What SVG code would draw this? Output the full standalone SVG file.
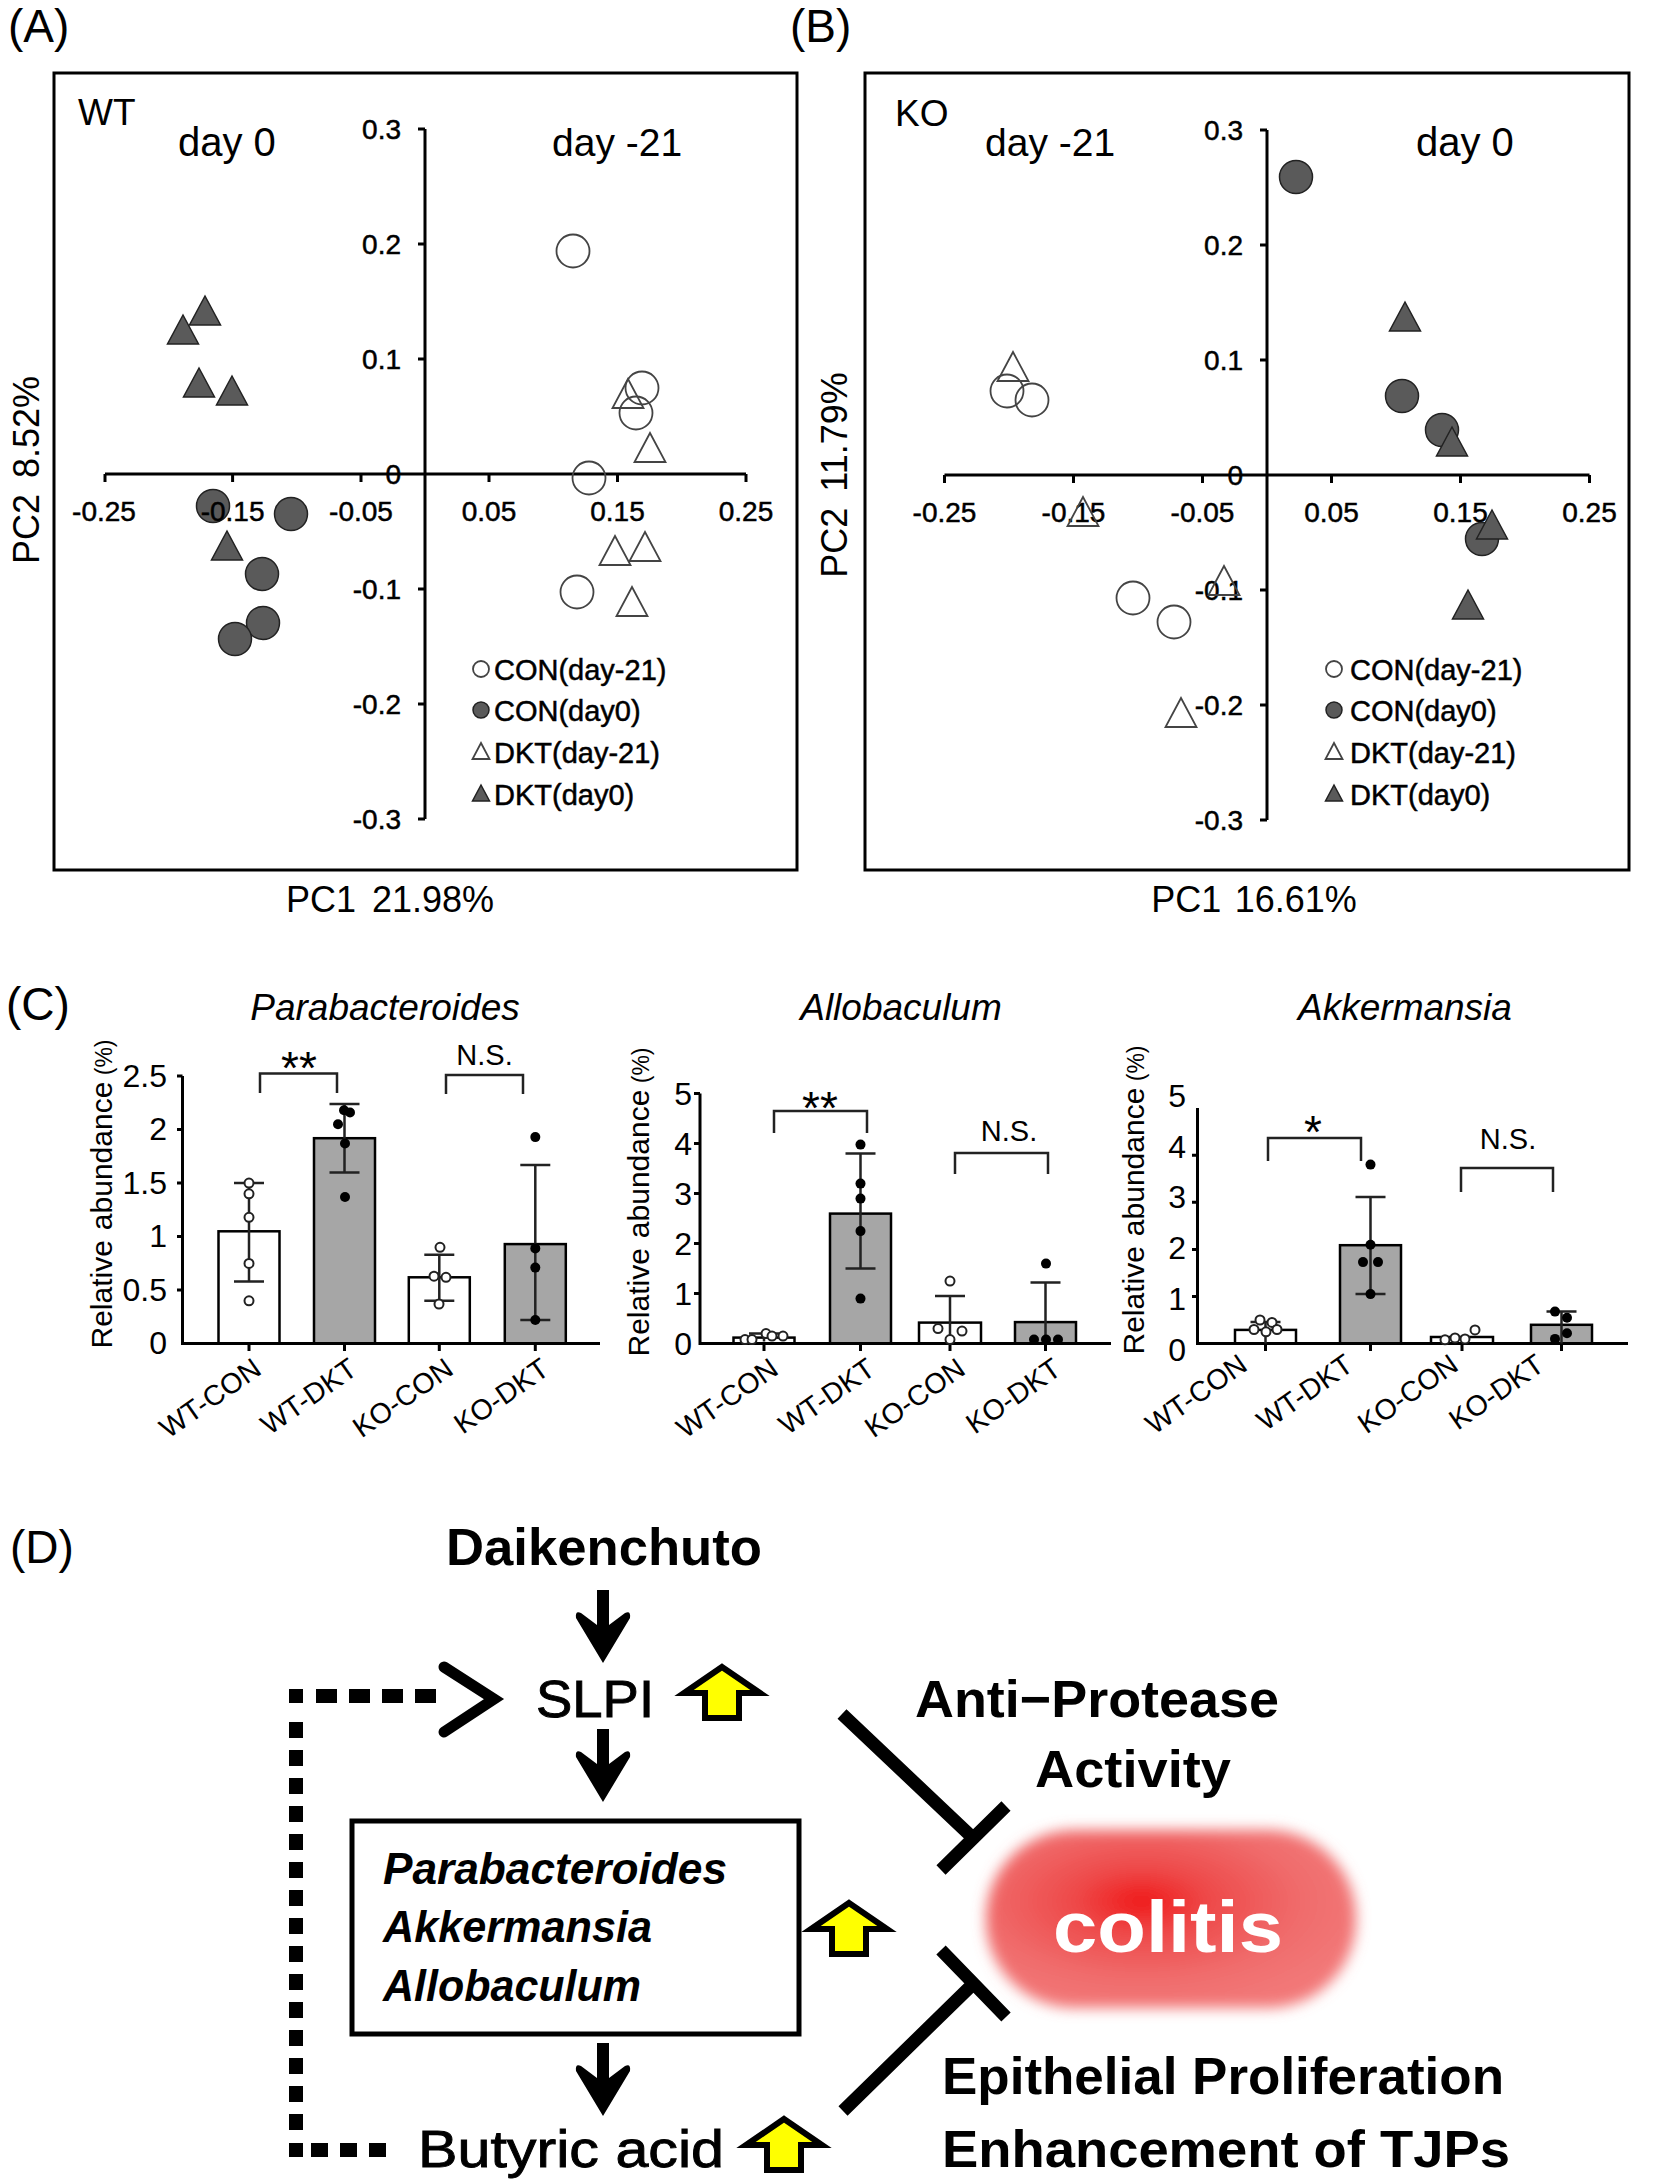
<svg xmlns="http://www.w3.org/2000/svg" xmlns:xlink="http://www.w3.org/1999/xlink" width="1654" height="2183" viewBox="0 0 1654 2183">
<style>
text{font-family:"Liberation Sans",Arial,sans-serif;fill:#000}
.pl{font-size:46px}
.ax{stroke:#000;stroke-width:3;fill:none}
.tk{font-size:28px;stroke:#000;stroke-width:0.5}
.big{font-size:40px}
.lg{font-size:29px;stroke:#000;stroke-width:0.5}
.fm{fill:#5a5a5a;stroke:#222;stroke-width:1.5}
.om{fill:none;stroke:#444;stroke-width:1.8}
.bw{fill:#fff;stroke:#000;stroke-width:2.5}
.bg{fill:#a6a6a6;stroke:#000;stroke-width:2.5}
.eb{stroke:#222;stroke-width:2.5;fill:none}
.pf{fill:#000}
.po{fill:#fff;stroke:#222;stroke-width:2}
.ct{font-size:32px}
.xl{font-size:28.5px}
.ti{font-size:37px;font-style:italic}
.ns{font-size:29px}
.st{font-size:46px}
.dt{font-size:52px}
.md{stroke:#000;stroke-width:0.9}
.bx{font-size:44px;font-weight:bold;font-style:italic}
.dash{stroke:#000;stroke-width:14;fill:none}
.inh{stroke:#000;stroke-width:13;fill:none}
.ya{fill:#ffff00;stroke:#000;stroke-width:6;stroke-linejoin:miter}
</style>
<defs>
<path id="tri" d="M0,-16 L15.5,13 L-15.5,13 Z"/>
<path id="ltri" d="M0,-9 L8.5,7 L-8.5,7 Z"/>
<path id="darr" d="M-6,-73 H6 V-38 L22,-50 Q28,-53 27,-45 L0,0 L-27,-45 Q-28,-53 -22,-50 L-6,-38 Z"/>
<path id="yarr" d="M0,3 L38,29 L17,29 L17,54 L-17,54 L-17,29 L-38,29 Z"/>
<radialGradient id="red" cx="0.42" cy="0.4" r="0.62">
<stop offset="0" stop-color="#f01818"/>
<stop offset="0.3" stop-color="#ee4a4a"/>
<stop offset="0.7" stop-color="#f06c6c"/>
<stop offset="1" stop-color="#f27878"/>
</radialGradient>
<filter id="blur" x="-20%" y="-30%" width="140%" height="160%"><feGaussianBlur stdDeviation="7"/></filter>
</defs>
<rect width="1654" height="2183" fill="#fff"/>

<!-- Panel A -->
<g id="panelA">
<text class="pl" x="8" y="42">(A)</text>
<rect class="ax" x="54" y="73" width="743" height="797"/>
<text class="big" x="78" y="125" style="font-size:37px">WT</text>
<text class="big" x="178" y="156">day 0</text>
<text class="big" x="552" y="156" style="font-size:39px">day -21</text>
<path class="ax" d="M105,474 H746 M425,129 V819 M105,474 V482 M232.6,474 V482 M361,474 V482 M489,474 V482 M617.5,474 V482 M746,474 V482 M418,129 H425 M418,244 H425 M418,359 H425 M418,589 H425 M418,704 H425 M418,819 H425"/>
<g id="A-markers">
<use href="#tri" class="fm" x="205" y="312"/>
<use href="#tri" class="fm" x="183" y="331"/>
<use href="#tri" class="fm" x="199" y="384"/>
<use href="#tri" class="fm" x="232" y="392"/>
<use href="#tri" class="fm" x="227" y="547"/>
<circle class="fm" cx="213" cy="506" r="16.5"/>
<circle class="fm" cx="291" cy="514" r="16.5"/>
<circle class="fm" cx="262" cy="574" r="16.5"/>
<circle class="fm" cx="263" cy="623" r="16.5"/>
<circle class="fm" cx="235" cy="639" r="16.5"/>
<circle class="om" cx="573" cy="251" r="16.5"/>
<circle class="om" cx="642" cy="388" r="16.5"/>
<circle class="om" cx="636" cy="413" r="16.5"/>
<circle class="om" cx="589" cy="478" r="16.5"/>
<circle class="om" cx="577" cy="592" r="16.5"/>
<use href="#tri" class="om" x="628" y="395"/>
<use href="#tri" class="om" x="650" y="449"/>
<use href="#tri" class="om" x="615" y="552"/>
<use href="#tri" class="om" x="645" y="548"/>
<use href="#tri" class="om" x="632" y="603"/>
</g>
<g class="tk" text-anchor="end">
<text x="401" y="139">0.3</text><text x="401" y="254">0.2</text><text x="401" y="369">0.1</text><text x="401" y="484">0</text>
<text x="401" y="599">-0.1</text><text x="401" y="714">-0.2</text><text x="401" y="829">-0.3</text>
</g>
<g class="tk" text-anchor="middle">
<text x="104" y="521">-0.25</text><text x="232.6" y="521">-0.15</text><text x="361" y="521">-0.05</text>
<text x="489" y="521">0.05</text><text x="617.5" y="521">0.15</text><text x="746" y="521">0.25</text>
</g>
<g id="A-legend">
<circle class="om" cx="481" cy="669" r="8"/>
<circle class="fm" cx="481" cy="710" r="8"/>
<use href="#ltri" class="om" x="481" y="752"/>
<use href="#ltri" class="fm" x="481" y="794"/>
<text class="lg" x="494" y="680">CON(day-21)</text>
<text class="lg" x="494" y="721">CON(day0)</text>
<text class="lg" x="494" y="763">DKT(day-21)</text>
<text class="lg" x="494" y="805">DKT(day0)</text>
</g>
<text x="390" y="912" text-anchor="middle" style="font-size:36px">PC1<tspan dx="16">21.98%</tspan></text>
<text transform="translate(39,470) rotate(-90)" text-anchor="middle" style="font-size:36px">PC2<tspan dx="16">8.52%</tspan></text>
</g>

<!-- Panel B -->
<g id="panelB">
<text class="pl" x="790" y="42">(B)</text>
<rect class="ax" x="865" y="73" width="764" height="797"/>
<text class="big" x="895" y="126" style="font-size:37px">KO</text>
<text class="big" x="985" y="156" style="font-size:39px">day -21</text>
<text class="big" x="1416" y="156">day 0</text>
<path class="ax" d="M944.5,475 H1589.5 M1267,130 V820 M944.5,475 V483 M1073.5,475 V483 M1202.5,475 V483 M1331.5,475 V483 M1460.5,475 V483 M1589.5,475 V483 M1260,130 H1267 M1260,245 H1267 M1260,360 H1267 M1260,590 H1267 M1260,705 H1267 M1260,820 H1267"/>
<g class="tk" text-anchor="end">
<text x="1243" y="140">0.3</text><text x="1243" y="255">0.2</text><text x="1243" y="370">0.1</text><text x="1243" y="485">0</text>
<text x="1243" y="600">-0.1</text><text x="1243" y="715">-0.2</text><text x="1243" y="830">-0.3</text>
</g>
<g class="tk" text-anchor="middle">
<text x="944.5" y="522">-0.25</text><text x="1073.5" y="522">-0.15</text><text x="1202.5" y="522">-0.05</text>
<text x="1331.5" y="522">0.05</text><text x="1460.5" y="522">0.15</text><text x="1589.5" y="522">0.25</text>
</g>
<g id="B-markers">
<circle class="fm" cx="1296" cy="177" r="16.5"/>
<circle class="fm" cx="1402" cy="396" r="16.5"/>
<circle class="fm" cx="1442" cy="430" r="16.5"/>
<circle class="fm" cx="1482" cy="539" r="16.5"/>
<use href="#tri" class="fm" x="1405" y="318"/>
<use href="#tri" class="fm" x="1452" y="443"/>
<use href="#tri" class="fm" x="1492" y="526"/>
<use href="#tri" class="fm" x="1468" y="606"/>
<use href="#tri" class="om" x="1013" y="368"/>
<use href="#tri" class="om" x="1083" y="513"/>
<use href="#tri" class="om" x="1224" y="582"/>
<use href="#tri" class="om" x="1181" y="714"/>
<circle class="om" cx="1007" cy="391" r="16.5"/>
<circle class="om" cx="1032" cy="400" r="16.5"/>
<circle class="om" cx="1133" cy="598" r="16.5"/>
<circle class="om" cx="1174" cy="622" r="16.5"/>
</g>
<g id="B-legend">
<circle class="om" cx="1334" cy="669" r="8"/>
<circle class="fm" cx="1334" cy="710" r="8"/>
<use href="#ltri" class="om" x="1334" y="752"/>
<use href="#ltri" class="fm" x="1334" y="794"/>
<text class="lg" x="1350" y="680">CON(day-21)</text>
<text class="lg" x="1350" y="721">CON(day0)</text>
<text class="lg" x="1350" y="763">DKT(day-21)</text>
<text class="lg" x="1350" y="805">DKT(day0)</text>
</g>
<text x="1254" y="912" text-anchor="middle" style="font-size:36px">PC1<tspan dx="16">16.61%</tspan></text>
<text transform="translate(847,475) rotate(-90)" text-anchor="middle" style="font-size:36px">PC2<tspan dx="16">11.79%</tspan></text>
</g>

<!-- Panel C -->
<g id="panelC">
<text class="pl" x="6" y="1020">(C)</text>
<text class="ti" x="385" y="1020" text-anchor="middle">Parabacteroides</text>
<text class="ti" x="901" y="1020" text-anchor="middle">Allobaculum</text>
<text class="ti" x="1405" y="1020" text-anchor="middle">Akkermansia</text>

<g id="chart1">
<text transform="translate(112,1194) rotate(-90)" text-anchor="middle" style="font-size:30px">Relative<tspan dx="10">abundance</tspan><tspan style="font-size:23px"> (%)</tspan></text>
<g class="ct" text-anchor="end">
<text x="167" y="1087">2.5</text><text x="167" y="1140">2</text><text x="167" y="1194">1.5</text><text x="167" y="1247">1</text><text x="167" y="1301">0.5</text><text x="167" y="1354">0</text>
</g>
<rect class="bw" x="218.5" y="1231.3" width="61" height="112.3"/>
<rect class="bg" x="314" y="1138.2" width="61" height="205.4"/>
<rect class="bw" x="408.8" y="1277.3" width="61" height="66.3"/>
<rect class="bg" x="504.8" y="1244.1" width="61" height="99.5"/>
<path class="ax" d="M182.5,1076 V1343.6 H600 M177,1076 H182.5 M177,1129.6 H182.5 M177,1183.1 H182.5 M177,1236.6 H182.5 M177,1290.1 H182.5 M249,1343.6 V1351 M344.5,1343.6 V1351 M439.3,1343.6 V1351 M535.3,1343.6 V1351"/>
<path class="eb" d="M249,1281.5 V1183.1 M234,1281.5 H264 M234,1183.1 H264 M344.5,1172.4 V1103.9 M329.5,1172.4 H359.5 M329.5,1103.9 H359.5 M439.3,1300.8 V1254.8 M424.3,1300.8 H454.3 M424.3,1254.8 H454.3 M535.3,1320 V1164.9 M520.3,1320 H550.3 M520.3,1164.9 H550.3"/>
<circle class="po" cx="249" cy="1183.1" r="4.5"/><circle class="po" cx="249" cy="1193.8" r="4.5"/><circle class="po" cx="249" cy="1217.3" r="4.5"/><circle class="po" cx="249" cy="1263.4" r="4.5"/><circle class="po" cx="249" cy="1300.8" r="4.5"/>
<circle class="pf" cx="344" cy="1110.3" r="5"/><circle class="pf" cx="350" cy="1112.5" r="5"/><circle class="pf" cx="338" cy="1124.2" r="5"/><circle class="pf" cx="345" cy="1143.5" r="5"/><circle class="pf" cx="345" cy="1197" r="5"/>
<circle class="po" cx="440" cy="1247.3" r="4.5"/><circle class="po" cx="434" cy="1276.2" r="4.5"/><circle class="po" cx="446" cy="1277.3" r="4.5"/><circle class="po" cx="439" cy="1304" r="4.5"/>
<circle class="pf" cx="535.3" cy="1137.1" r="5"/><circle class="pf" cx="535.3" cy="1248.4" r="5"/><circle class="pf" cx="535.3" cy="1267.6" r="5"/><circle class="pf" cx="535.3" cy="1320" r="5"/>
<path class="eb" d="M260,1093 V1073.5 H337 V1093 M446,1094 V1075 H523 V1094"/>
<text class="st" x="299" y="1084" text-anchor="middle">**</text>
<text class="ns" x="484.5" y="1065" text-anchor="middle">N.S.</text>
<g class="xl" text-anchor="end">
<text transform="translate(263,1373) rotate(-35)">WT-CON</text>
<text transform="translate(359,1373) rotate(-35)">WT-DKT</text>
<text transform="translate(455,1373) rotate(-35)">KO-CON</text>
<text transform="translate(551,1373) rotate(-35)">KO-DKT</text>
</g>
</g>

<g id="chart2">
<text transform="translate(649,1202) rotate(-90)" text-anchor="middle" style="font-size:30px">Relative<tspan dx="10">abundance</tspan><tspan style="font-size:23px"> (%)</tspan></text>
<g class="ct" text-anchor="end">
<text x="692" y="1105">5</text><text x="692" y="1155">4</text><text x="692" y="1205">3</text><text x="692" y="1255">2</text><text x="692" y="1305">1</text><text x="692" y="1355">0</text>
</g>
<rect class="bw" x="733.5" y="1337.6" width="61" height="6"/>
<rect class="bg" x="830" y="1213.6" width="61" height="130"/>
<rect class="bw" x="919" y="1322.6" width="62" height="21"/>
<rect class="bg" x="1015" y="1322.1" width="61" height="21.5"/>
<path class="ax" d="M700,1093.6 V1343.6 H1111 M694,1093.6 H700 M694,1143.6 H700 M694,1193.6 H700 M694,1243.6 H700 M694,1293.6 H700 M764,1343.6 V1351 M860.5,1343.6 V1351 M950,1343.6 V1351 M1045.5,1343.6 V1351"/>
<path class="eb" d="M764,1341.6 V1333.6 M749,1333.6 H779 M860.5,1268.6 V1153.6 M845.5,1268.6 H875.5 M845.5,1153.6 H875.5 M950,1343.6 V1296.1 M935,1296.1 H965 M1045.5,1343.6 V1282.6 M1030.5,1282.6 H1060.5"/>
<circle class="po" cx="745" cy="1339.6" r="4.5"/><circle class="po" cx="752" cy="1339.6" r="4.5"/><circle class="po" cx="766" cy="1333.6" r="4.5"/><circle class="po" cx="772" cy="1336.1" r="4.5"/><circle class="po" cx="783" cy="1336.1" r="4.5"/>
<circle class="pf" cx="860.5" cy="1144.6" r="5"/><circle class="pf" cx="860.5" cy="1183.6" r="5"/><circle class="pf" cx="860.5" cy="1198.6" r="5"/><circle class="pf" cx="860.5" cy="1231.1" r="5"/><circle class="pf" cx="860.5" cy="1298.6" r="5"/>
<circle class="po" cx="950" cy="1281.1" r="4.5"/><circle class="po" cx="938" cy="1328.6" r="4.5"/><circle class="po" cx="962" cy="1331.1" r="4.5"/><circle class="po" cx="950" cy="1339.6" r="4.5"/>
<circle class="pf" cx="1046" cy="1263.6" r="5"/><circle class="pf" cx="1034" cy="1339.6" r="5"/><circle class="pf" cx="1046" cy="1339.6" r="5"/><circle class="pf" cx="1058" cy="1339.6" r="5"/>
<path class="eb" d="M774,1133 V1111 H867 V1133 M955,1174 V1153 H1048 V1174"/>
<text class="st" x="820" y="1124" text-anchor="middle">**</text>
<text class="ns" x="1009" y="1141" text-anchor="middle">N.S.</text>
<g class="xl" text-anchor="end">
<text transform="translate(780,1373) rotate(-35)">WT-CON</text>
<text transform="translate(877,1373) rotate(-35)">WT-DKT</text>
<text transform="translate(967,1373) rotate(-35)">KO-CON</text>
<text transform="translate(1063,1373) rotate(-35)">KO-DKT</text>
</g>
</g>

<g id="chart3">
<text transform="translate(1144,1200) rotate(-90)" text-anchor="middle" style="font-size:30px">Relative<tspan dx="10">abundance</tspan><tspan style="font-size:23px"> (%)</tspan></text>
<g class="ct" text-anchor="end">
<text x="1186" y="1107">5</text><text x="1186" y="1158">4</text><text x="1186" y="1208">3</text><text x="1186" y="1259">2</text><text x="1186" y="1310">1</text><text x="1186" y="1361">0</text>
</g>
<rect class="bw" x="1235" y="1329.9" width="61" height="13.7"/>
<rect class="bg" x="1340" y="1245.2" width="61" height="98.4"/>
<rect class="bw" x="1431" y="1337" width="62" height="6.6"/>
<rect class="bg" x="1531" y="1324.8" width="61" height="18.8"/>
<path class="ax" d="M1197.5,1108 V1343.6 H1628 M1192,1155.2 H1197.5 M1192,1202.3 H1197.5 M1192,1249.4 H1197.5 M1192,1296.5 H1197.5 M1265.5,1343.6 V1351 M1370.5,1343.6 V1351 M1462,1343.6 V1351 M1561.5,1343.6 V1351"/>
<path class="eb" d="M1265.5,1343.6 V1321.9 M1250.5,1321.9 H1280.5 M1370.5,1294.1 V1197.1 M1355.5,1294.1 H1385.5 M1355.5,1197.1 H1385.5 M1561.5,1343.6 V1311.6 M1546.5,1311.6 H1576.5"/>
<circle class="po" cx="1260" cy="1320" r="4.5"/><circle class="po" cx="1272" cy="1322.4" r="4.5"/><circle class="po" cx="1254" cy="1329.5" r="4.5"/><circle class="po" cx="1277" cy="1329.5" r="4.5"/><circle class="po" cx="1266" cy="1331.8" r="4.5"/>
<circle class="pf" cx="1370.5" cy="1164.6" r="5"/><circle class="pf" cx="1370.5" cy="1244.7" r="5"/><circle class="pf" cx="1363" cy="1262.1" r="5"/><circle class="pf" cx="1378" cy="1262.1" r="5"/><circle class="pf" cx="1370.5" cy="1294.1" r="5"/>
<circle class="po" cx="1475" cy="1329.9" r="4.5"/><circle class="po" cx="1455" cy="1337.9" r="4.5"/><circle class="po" cx="1465" cy="1338.9" r="4.5"/><circle class="po" cx="1445" cy="1339.8" r="4.5"/>
<circle class="pf" cx="1555" cy="1311.6" r="5"/><circle class="pf" cx="1567" cy="1317.7" r="5"/><circle class="pf" cx="1567" cy="1333.2" r="5"/><circle class="pf" cx="1555" cy="1338.9" r="5"/>
<path class="eb" d="M1268,1161 V1138 H1361 V1161 M1461,1192 V1168 H1553 V1192"/>
<text class="st" x="1313" y="1148" text-anchor="middle">*</text>
<text class="ns" x="1508" y="1149" text-anchor="middle">N.S.</text>
<g class="xl" text-anchor="end">
<text transform="translate(1249,1369) rotate(-35)">WT-CON</text>
<text transform="translate(1355,1369) rotate(-35)">WT-DKT</text>
<text transform="translate(1460,1369) rotate(-35)">KO-CON</text>
<text transform="translate(1546,1369) rotate(-35)">KO-DKT</text>
</g>
</g>
</g>

<!-- Panel D -->
<g id="panelD">
<text class="pl" x="10" y="1563">(D)</text>
<g id="colitis">
<rect x="986" y="1830" width="370" height="178" rx="88" fill="url(#red)" filter="url(#blur)"/>
<text x="1053" y="1952" textLength="230" lengthAdjust="spacingAndGlyphs" style="font-size:72px;font-weight:bold;fill:#fff">colitis</text>
</g>
<g id="node-daikenchuto"><text class="dt" x="446" y="1565" textLength="316" lengthAdjust="spacingAndGlyphs" font-weight="bold">Daikenchuto</text></g>
<g id="node-slpi"><text class="dt md" x="536" y="1717" textLength="118" lengthAdjust="spacingAndGlyphs">SLPI</text></g>
<g id="node-bacteria">
<rect x="352" y="1821" width="447" height="213" fill="none" stroke="#000" stroke-width="5"/>
<text class="bx" x="383" y="1884" textLength="344" lengthAdjust="spacingAndGlyphs">Parabacteroides</text>
<text class="bx" x="383" y="1942" textLength="269" lengthAdjust="spacingAndGlyphs">Akkermansia</text>
<text class="bx" x="383" y="2001" textLength="258" lengthAdjust="spacingAndGlyphs">Allobaculum</text>
</g>
<g id="node-butyric"><text class="dt md" x="418" y="2167" textLength="306" lengthAdjust="spacingAndGlyphs">Butyric acid</text></g>
<g id="node-antiprotease">
<text class="dt" x="915" y="1717" textLength="364" lengthAdjust="spacingAndGlyphs" font-weight="bold">Anti−Protease</text>
<text class="dt" x="1035" y="1787" textLength="196" lengthAdjust="spacingAndGlyphs" font-weight="bold">Activity</text>
</g>
<g id="node-epithelial">
<text class="dt" x="942" y="2094" textLength="562" lengthAdjust="spacingAndGlyphs" font-weight="bold">Epithelial Proliferation</text>
<text class="dt" x="942" y="2167" textLength="568" lengthAdjust="spacingAndGlyphs" font-weight="bold">Enhancement of TJPs</text>
</g>
<g id="up-arrows">
<use href="#yarr" class="ya" x="722" y="1664"/>
<use href="#yarr" class="ya" x="849" y="1900"/>
<use href="#yarr" class="ya" x="784" y="2116"/>
</g>
<g id="connectors">
<use href="#darr" x="603" y="1663"/>
<use href="#darr" x="603" y="1802"/>
<use href="#darr" x="603" y="2116"/>
<rect x="289" y="1689" width="14" height="14"/>
<path class="dash" d="M316,1696 H440" stroke-dasharray="21 12"/>
<path class="dash" d="M296,1722 V2140" stroke-dasharray="16 12"/>
<path class="dash" d="M311,2150 H395" stroke-dasharray="17 12"/>
<rect x="289" y="2143" width="14" height="14"/>
<polyline points="444,1667 494,1699 444,1732" fill="none" stroke="#000" stroke-width="11" stroke-linecap="round" stroke-linejoin="miter"/>
<path class="inh" d="M842,1714 L973,1838 M1006,1806 L941,1870"/>
<path class="inh" d="M941,1950 L1006,2017 M973,1984 L843,2111"/>
</g>
</g>
</svg>
